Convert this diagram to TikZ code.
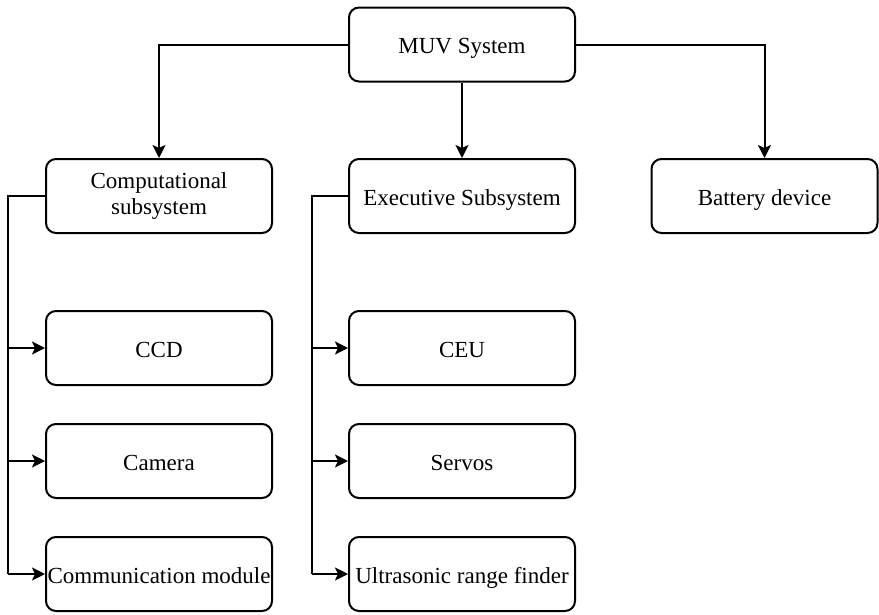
\documentclass[tikz,border=0pt]{standalone}
\usepackage{fontspec}
\setmainfont{Liberation Serif}
\newfontfamily\tnr{Liberation Serif}
\usetikzlibrary{arrows.meta}
\begin{document}
\begin{tikzpicture}[x=1pt,y=-1pt,
  box/.style={draw,line width=2pt,rounded corners=10pt,minimum width=226pt,minimum height=74pt,align=center,font=\tnr\fontsize{23}{25}\selectfont,inner sep=0pt,text height=19pt,text depth=1pt},
  conn/.style={line width=2pt,-{Stealth[length=13pt,width=13pt,inset=3pt]}},
  plain/.style={line width=2pt}]
\useasboundingbox (0,0) rectangle (879,614);
\node[box] (muv) at (462,44.5) {MUV System};
\node[box,text height=,text depth=] (comp) at (159,196) {Computational\\[1pt]subsystem};
\node[box] (exec) at (462,196) {Executive Subsystem};
\node[box] (batt) at (764.5,196) {Battery device};
\node[box] (ccd) at (159,348) {CCD};
\node[box] (cam) at (159,461) {Camera};
\node[box] (comm) at (159,574) {Communication module};
\node[box] (ceu) at (462,348) {CEU};
\node[box] (serv) at (462,461) {Servos};
\node[box] (ult) at (462,574) {Ultrasonic range finder};
\coordinate (cbus) at (8,196);
\coordinate (ebus) at (312,196);
\draw[conn] (muv.west) -| (comp.north);
\draw[conn] (muv.south) -- (exec.north);
\draw[conn] (muv.east) -| (batt.north);
\draw[plain] (comp.west) -- (cbus) -- (cbus |- comm.west);
\draw[conn] (cbus |- ccd.west) -- (ccd.west);
\draw[conn] (cbus |- cam.west) -- (cam.west);
\draw[conn] (cbus |- comm.west) -- (comm.west);
\draw[plain] (exec.west) -- (ebus) -- (ebus |- ult.west);
\draw[conn] (ebus |- ceu.west) -- (ceu.west);
\draw[conn] (ebus |- serv.west) -- (serv.west);
\draw[conn] (ebus |- ult.west) -- (ult.west);
\end{tikzpicture}
\end{document}
